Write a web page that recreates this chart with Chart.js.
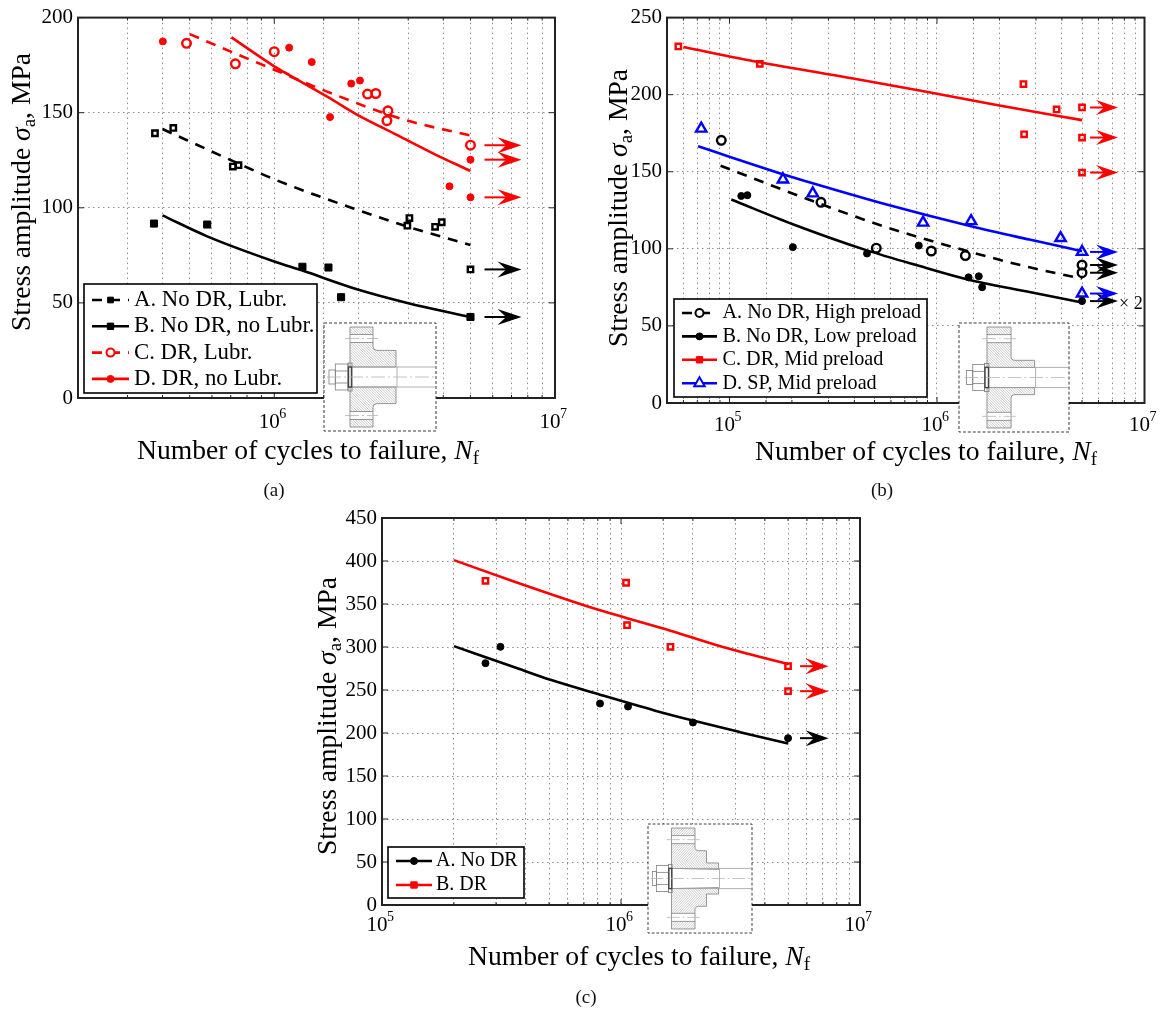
<!DOCTYPE html>
<html>
<head>
<meta charset="utf-8">
<script src="https://cdn.jsdelivr.net/npm/chart.js@4"></script>
<style>
  html, body { margin: 0; padding: 0; background: #fff; }
  canvas { position: absolute; }
  .cap { position: absolute; font: 19px "Liberation Serif", serif; color: #111; transform: translateX(-50%); }
</style>
</head>
<body>
<canvas id="chartA" style="left:0;top:0"></canvas>
<canvas id="chartB" style="left:600px;top:0"></canvas>
<canvas id="chartC" style="left:310px;top:500px"></canvas>
<div class="cap" style="left:274px;top:479px">(a)</div>
<div class="cap" style="left:882px;top:479px">(b)</div>
<div class="cap" style="left:586px;top:986px">(c)</div>
<script>
// panel (a)
const aLabels = ['A. No DR, Lubr.', 'B. No DR, no Lubr.', 'C. DR, Lubr.', 'D. DR, no Lubr.'];
const aYTicks = [0, 50, 100, 150, 200];
const aAX = [3.76e5, 4.37e5, 7.12e5, 7.46e5, 2.98e6, 3.03e6, 3.74e6, 3.95e6, 5e6];
const aAY = [139.2, 142, 121.7, 122.4, 90.6, 94.6, 90, 92.4, 67.6];
const aBX = [3.73e5, 5.77e5, 1.26e6, 1.56e6, 1.73e6, 5e6];
const aBY = [91.7, 91.2, 69, 68.6, 53, 42.6];
const aCX = [4.87e5, 7.27e5, 1e6, 2.15e6, 2.30e6, 2.54e6, 2.52e6, 5e6];
const aCY = [186.5, 175.7, 182.1, 159.8, 160.1, 151, 145.8, 132.9];
const aDX = [4.01e5, 1.13e6, 1.36e6, 1.58e6, 1.88e6, 2.02e6, 4.21e6, 5e6, 5e6];
const aDY = [187.5, 184.2, 176.6, 147.7, 165.3, 166.9, 111.3, 125.3, 105.5];
const aFitAX = [4e5, 7.1e5, 1e6, 1.97e6, 3e6, 5e6];
const aFitAY = [141.4, 124.7, 115, 99, 90, 80.4];
const aFitBX = [4e5, 5.77e5, 1e6, 1.26e6, 1.97e6, 2.98e6, 5e6];
const aFitBY = [96, 85, 71.8, 67, 57.2, 50, 42.6];
const aFitCX = [5e5, 7.3e5, 1e6, 1.56e6, 2.88e6, 5e6];
const aFitCY = [191.3, 181, 172.6, 160.8, 146.5, 138];
const aFitDX = [7.04e5, 1e6, 1.14e6, 1.56e6, 1.97e6, 2.72e6, 3.75e6, 5e6];
const aFitDY = [189.6, 174.4, 169.5, 158, 149, 138.5, 128, 119.4];
const aRunoutRed = [132.9, 125.3, 105.5];
const aRunoutBlack = [67.6, 42.6];

// panel (b)
const bLabels = ['A. No DR, High preload', 'B. No DR, Low preload', 'C. DR, Mid preload', 'D. SP, Mid preload'];
const bYTicks = [0, 50, 100, 150, 200, 250];
const bAX = [9.13e4, 2.76e5, 5.10e5, 9.39e5, 1.37e6, 5e6, 5e6];
const bAY = [170.4, 130.2, 100.4, 98.6, 95.6, 89.5, 84.5];
const bBX = [1.14e5, 1.22e5, 2.02e5, 4.60e5, 8.17e5, 1.42e6, 1.59e6, 1.65e6, 5e6];
const bBY = [134.3, 134.8, 101.1, 97, 102.1, 81.5, 82.2, 75.1, 66.1];
const bCX = [5.67e4, 1.40e5, 2.61e6, 2.63e6, 3.77e6, 5e6, 5e6, 5e6];
const bCY = [231.3, 220, 206.9, 174.3, 190.4, 191.7, 172.2, 149.5];
const bDX = [7.31e4, 1.81e5, 2.52e5, 8.57e5, 1.46e6, 3.94e6, 5e6, 5e6];
const bDY = [178, 145, 136, 117, 118, 107, 98, 71];
const bFitAX = [9.06e4, 2.76e5, 5.72e5, 1.26e6, 2.79e6, 5e6];
const bFitAY = [153.9, 129, 114, 100.3, 88, 80.7];
const bFitBX = [1.02e5, 2.02e5, 4.60e5, 8.17e5, 1.42e6, 2.79e6, 5e6];
const bFitBY = [132, 116, 99, 89, 80, 72, 65.2];
const bFitCX = [6e4, 1.40e5, 3.85e5, 8.5e5, 1.88e6, 5e6];
const bFitCY = [230.9, 221, 210.7, 202.4, 193.6, 183.5];
const bFitDX = [7.06e4, 1.81e5, 2.52e5, 5.72e5, 1.46e6, 2.79e6, 5e6];
const bFitDY = [166.5, 148.4, 142.5, 128.7, 114.6, 106, 98.5];
const bRunoutRed = [191.7, 172.2, 149.5];
const bRunoutBlack = [89.5, 84.5, 66.1];
const bRunoutBlue = [98, 71];

// panel (c)
const cLabels = ['A. No DR', 'B. DR'];
const cYTicks = [0, 50, 100, 150, 200, 250, 300, 350, 400, 450];
const cAX = [2.71e5, 3.13e5, 8.17e5, 1.07e6, 2.0e6, 5e6];
const cAY = [281.2, 300.2, 234.3, 230.8, 212.2, 194];
const cBX = [2.71e5, 1.05e6, 1.06e6, 1.61e6, 5e6, 5e6];
const cBY = [377, 374.7, 325.4, 300.2, 277.7, 248.6];
const cFitAX = [2e5, 3.66e5, 5.11e5, 8.17e5, 1.39e6, 2e6, 3.15e6, 5e6];
const cFitAY = [301, 275.5, 261.5, 244.5, 226, 214.5, 201, 187.7];
const cFitBX = [2e5, 3.66e5, 7.1e5, 1.06e6, 1.61e6, 2.67e6, 5e6];
const cFitBY = [401, 375, 348, 333.5, 319, 300, 280];
const cRunoutRed = [277.7, 248.6];
const cRunoutBlack = [194];

const SERIF = '"Liberation Serif", serif';
const INK = '#000';
const RED = '#ff0000';
const BLUE = '#0000ff';

function pts(xs, ys) { return xs.map((x, i) => ({ x: x, y: ys[i] })); }

function marks(xs, ys, m) {
  return {
    data: pts(xs, ys), showLine: false, pointStyle: m.style, pointRadius: m.r, pointHoverRadius: m.r,
    pointBorderColor: m.color, pointBorderWidth: m.filled ? 1 : 2.4,
    pointBackgroundColor: m.filled ? m.color : 'rgba(0,0,0,0)'
  };
}

function fit(xs, ys, m) {
  return {
    data: pts(xs, ys), showLine: true, pointRadius: 0, borderColor: m.color, borderWidth: 2.6,
    borderDash: m.dash || [], cubicInterpolationMode: 'monotone'
  };
}

// text made of runs, e.g. subscripts, centred on (cx, cy)
function richText(ctx, runs, cx, cy, rot) {
  ctx.save();
  ctx.translate(cx, cy);
  if (rot) ctx.rotate(rot);
  ctx.textBaseline = 'alphabetic';
  ctx.textAlign = 'left';
  ctx.fillStyle = INK;
  let total = 0;
  runs.forEach(r => { ctx.font = r.font; total += ctx.measureText(r.t).width; });
  let x = -total / 2;
  runs.forEach(r => {
    ctx.font = r.font;
    ctx.fillText(r.t, x, r.dy || 0);
    x += ctx.measureText(r.t).width;
  });
  ctx.restore();
}

function arrow(ctx, x0, x1, y, color, len, half) {
  ctx.save();
  ctx.strokeStyle = color;
  ctx.fillStyle = color;
  ctx.lineWidth = 2;
  ctx.beginPath();
  ctx.moveTo(x0, y);
  ctx.lineTo(x1 - len * 0.5, y);
  ctx.stroke();
  ctx.beginPath();
  ctx.moveTo(x1, y);
  ctx.lineTo(x1 - len, y - half);
  ctx.lineTo(x1 - len * 0.64, y);
  ctx.lineTo(x1 - len, y + half);
  ctx.closePath();
  ctx.fill();
  ctx.restore();
}

// small bolted flange sketch; coordinates are relative to a 112x108 box
function inset(ctx, b) {
  const cy = 54;
  ctx.save();
  ctx.translate(b.x, b.y);
  ctx.scale(b.w / 112, b.h / 108);
  ctx.fillStyle = '#fff';
  ctx.fillRect(0, 0, 112, 108);
  ctx.strokeStyle = '#222';
  ctx.lineWidth = 0.9;
  ctx.setLineDash([3, 2]);
  ctx.strokeRect(0, 0, 112, 108);
  ctx.setLineDash([]);

  const outline = side => {
    const f = y => side < 0 ? y : 108 - y;
    ctx.moveTo(b.fl, f(4)); ctx.lineTo(b.fr, f(4)); ctx.lineTo(b.fr, f(b.neckY - 4));
    ctx.quadraticCurveTo(b.fr, f(b.neckY), b.fr + 4, f(b.neckY));
    ctx.lineTo(b.neckX, f(b.neckY));
    if (b.stepX) { ctx.lineTo(b.neckX, f(b.stepY)); ctx.lineTo(b.stepX, f(b.stepY)); ctx.lineTo(b.stepX, f(45)); }
    else ctx.lineTo(b.neckX, f(44));
    ctx.lineTo(b.fl, f(44)); ctx.closePath();
  };
  ctx.save();
  ctx.beginPath();
  outline(-1); outline(1);
  ctx.clip();
  ctx.strokeStyle = '#a8a8a8';
  ctx.lineWidth = 0.6;
  ctx.beginPath();
  const dir = b.hatchUp ? -1 : 1;
  for (let i = -120; i < 240; i += 2.6) { ctx.moveTo(i, 0); ctx.lineTo(i + dir * 108, 108); }
  ctx.stroke();
  ctx.fillStyle = '#fff';
  ctx.fillRect(b.fl, 11.5, b.fr - b.fl + 1, 8);
  ctx.fillRect(b.fl, 88.5, b.fr - b.fl + 1, 8);
  if (b.stepX) {
    // sleeve inside the flange, hatched the other way
    ctx.fillRect(b.fl, 37, b.stepX - b.fl, 8);
    ctx.fillRect(b.fl, 63, b.stepX - b.fl, 8);
    ctx.save();
    ctx.beginPath();
    ctx.rect(b.fl, 37, b.stepX - b.fl, 8);
    ctx.rect(b.fl, 63, b.stepX - b.fl, 8);
    ctx.clip();
    ctx.beginPath();
    for (let i = -120; i < 240; i += 2.6) { ctx.moveTo(i, 0); ctx.lineTo(i + 108, 108); }
    ctx.stroke();
    ctx.restore();
  }
  ctx.restore();

  ctx.strokeStyle = '#7c7c7c';
  ctx.lineWidth = 0.8;
  ctx.beginPath();
  outline(-1); outline(1);
  ctx.moveTo(b.fl, 11.5); ctx.lineTo(b.fr, 11.5); ctx.moveTo(b.fl, 19.5); ctx.lineTo(b.fr, 19.5);
  ctx.moveTo(b.fl, 88.5); ctx.lineTo(b.fr, 88.5); ctx.moveTo(b.fl, 96.5); ctx.lineTo(b.fr, 96.5);
  ctx.stroke();

  // bolt shaft, nut, washer
  const endX = b.stepX || b.neckX;
  ctx.strokeStyle = '#9c9c9c';
  ctx.beginPath();
  ctx.moveTo(b.washR, cy - 10); ctx.lineTo(112, cy - 10);
  ctx.moveTo(b.washR, cy + 10); ctx.lineTo(112, cy + 10);
  ctx.moveTo(endX + 1, cy - 10); ctx.lineTo(endX + 1, cy + 10);
  ctx.stroke();
  ctx.strokeStyle = '#7c7c7c';
  ctx.strokeRect(b.nutL, cy - 13, b.nutR - b.nutL, 26);
  ctx.strokeRect(b.headL, cy - 7, b.nutL - b.headL, 14);
  ctx.beginPath();
  ctx.moveTo(b.nutL, cy - 6); ctx.lineTo(b.nutR, cy - 6); ctx.moveTo(b.nutL, cy + 6); ctx.lineTo(b.nutR, cy + 6);
  ctx.stroke();
  ctx.strokeRect(b.nutR, cy - 14, b.washR - b.nutR, 28);
  ctx.strokeStyle = '#444';
  ctx.lineWidth = 1.4;
  ctx.strokeRect(b.nutR + 0.5, cy - 10, b.washR - b.nutR - 1, 20);
  ctx.strokeStyle = '#b4b4b4';
  ctx.lineWidth = 0.8;
  ctx.setLineDash([14, 3, 2, 3]);
  ctx.beginPath();
  ctx.moveTo(b.headL - 2, cy); ctx.lineTo(112, cy);
  ctx.moveTo(b.fl - 5, 15.5); ctx.lineTo(b.fr + 5, 15.5);
  ctx.moveTo(b.fl - 5, 92.5); ctx.lineTo(b.fr + 5, 92.5);
  ctx.stroke();
  ctx.restore();
}

function isDecade(v) {
  const e = Math.log10(v);
  return Math.abs(e - Math.round(e)) < 1e-6;
}

const panelPlugin = {
  id: 'panel',
  afterDatasetsDraw(chart, args, o) {
    const ctx = chart.ctx;
    const { left, right, top, bottom } = chart.chartArea;
    const xs = chart.scales.x, ys = chart.scales.y;
    // axes box and inner ticks
    ctx.save();
    ctx.strokeStyle = '#222';
    ctx.lineWidth = 1;
    ctx.beginPath();
    xs.ticks.forEach(t => {
      const p = xs.getPixelForValue(t.value);
      const len = isDecade(t.value) ? 6 : 3;
      ctx.moveTo(p, bottom); ctx.lineTo(p, bottom - len);
      ctx.moveTo(p, top); ctx.lineTo(p, top + len);
    });
    ys.ticks.forEach(t => {
      const p = ys.getPixelForValue(t.value);
      ctx.moveTo(left, p); ctx.lineTo(left + 6, p);
      ctx.moveTo(right, p); ctx.lineTo(right - 6, p);
    });
    ctx.stroke();
    ctx.lineWidth = 2;
    ctx.strokeRect(left, top, right - left, bottom - top);
    ctx.restore();

    // exponent of the decade labels
    ctx.save();
    ctx.font = '14px ' + SERIF;
    ctx.fillStyle = INK;
    ctx.textAlign = 'left';
    ctx.textBaseline = 'alphabetic';
    xs.ticks.filter(t => isDecade(t.value)).forEach(t => {
      ctx.fillText(String(Math.round(Math.log10(t.value))), xs.getPixelForValue(t.value) + 5, bottom + o.labelPad + 8);
    });
    ctx.restore();

    // run-out arrows
    o.arrows.forEach(a => {
      const x = xs.getPixelForValue(a.x);
      a.ys.forEach(v => arrow(ctx, x + o.arrowFrom, x + o.arrowTo, ys.getPixelForValue(v), a.color, o.headLen, o.headHalf));
    });
    (o.notes || []).forEach(n => {
      ctx.save();
      ctx.font = n.font; ctx.fillStyle = INK; ctx.textBaseline = 'middle';
      ctx.fillText(n.text, n.px, ys.getPixelForValue(n.y));
      ctx.restore();
    });

    // legend
    const lg = o.legend;
    ctx.save();
    ctx.fillStyle = '#fff';
    ctx.fillRect(lg.x, lg.y, lg.w, lg.h);
    ctx.strokeStyle = INK;
    ctx.lineWidth = 1.6;
    ctx.strokeRect(lg.x, lg.y, lg.w, lg.h);
    lg.items.forEach((it, i) => {
      const y = lg.y + lg.first + i * lg.step;
      ctx.strokeStyle = it.color;
      ctx.lineWidth = 2.6;
      ctx.setLineDash(it.dash || []);
      ctx.beginPath();
      ctx.moveTo(lg.x + lg.lineFrom, y); ctx.lineTo(lg.x + lg.lineTo, y);
      ctx.stroke();
      ctx.setLineDash([]);
      ctx.fillStyle = it.filled ? it.color : '#fff';
      ctx.lineWidth = it.filled ? 1 : 2;
      Chart.helpers.drawPoint(ctx, { pointStyle: it.style, rotation: 0, borderWidth: ctx.lineWidth, radius: it.r }, lg.x + (lg.lineFrom + lg.lineTo) / 2, y);
      ctx.fillStyle = INK;
      ctx.font = lg.font;
      ctx.textBaseline = 'middle';
      ctx.fillText(it.label, lg.x + lg.textX, y);
    });
    ctx.restore();

    inset(ctx, o.inset);

    // axis titles
    const big = o.titleSize + 'px ' + SERIF;
    const it = 'italic ' + o.titleSize + 'px ' + SERIF;
    const sub = Math.round(o.titleSize * 0.7) + 'px ' + SERIF;
    richText(ctx, [
      { t: 'Number of cycles to failure, ', font: big },
      { t: 'N', font: it },
      { t: 'f', font: sub, dy: 5 }
    ], o.xTitle.x, o.xTitle.y);
    richText(ctx, [
      { t: 'Stress amplitude ', font: big },
      { t: '\u03c3', font: it },
      { t: 'a', font: sub, dy: 5 },
      { t: ', MPa', font: big }
    ], o.yTitle.x, o.yTitle.y, -Math.PI / 2);
  }
};

function makePanel(id, w, h, box, xMin, yMax, yStep, datasets, decor) {
  const el = document.getElementById(id);
  el.style.width = w + 'px';
  el.style.height = h + 'px';
  el.width = w;
  el.height = h;
  return new Chart(el, {
    type: 'scatter',
    data: { datasets: datasets },
    plugins: [panelPlugin],
    options: {
      responsive: false,
      animation: false,
      devicePixelRatio: 1,
      layout: { padding: { top: box.top, right: w - box.right, left: 0, bottom: 0 } },
      plugins: { legend: { display: false }, tooltip: { enabled: false }, panel: decor },
      scales: {
        x: {
          type: 'logarithmic', min: xMin, max: 1e7,
          afterFit(s) { s.height = h - box.bottom; },
          grid: { color: '#8c8c8c', lineWidth: 1, drawTicks: false },
          border: { display: false, dash: [1.5, 3.5] },
          ticks: {
            autoSkip: false, maxRotation: 0, padding: decor.labelPad, labelOffset: -5, color: INK,
            font: { family: 'Liberation Serif', size: 21 },
            callback(v) { return isDecade(v) ? '10' : ''; }
          }
        },
        y: {
          type: 'linear', min: 0, max: yMax,
          afterFit(s) { s.width = box.left; },
          grid: { color: '#8c8c8c', lineWidth: 1, drawTicks: false },
          border: { display: false, dash: [1.5, 3.5] },
          ticks: {
            stepSize: yStep, padding: 5, color: INK,
            font: { family: 'Liberation Serif', size: 21 }
          }
        }
      }
    }
  });
}

const sq = c => ({ style: 'rect', r: 3.8, color: c, filled: false });
const sqFull = c => ({ style: 'rect', r: 5, color: c, filled: true });
const dot = c => ({ style: 'circle', r: 3.5, color: c, filled: true });
const ring = c => ({ style: 'circle', r: 4.3, color: c, filled: false });
const tri = c => ({ style: 'triangle', r: 6, color: c, filled: false });
const dashed = [10, 8];

makePanel('chartA', 600, 480, { left: 78, right: 555, top: 15, bottom: 398 }, 2e5, aYTicks[aYTicks.length - 1], 50, [
  marks(aAX, aAY, sq(INK)), marks(aBX, aBY, sqFull(INK)), marks(aCX, aCY, ring(RED)), marks(aDX, aDY, dot(RED)),
  fit(aFitAX, aFitAY, { color: INK, dash: dashed }), fit(aFitBX, aFitBY, { color: INK }),
  fit(aFitCX, aFitCY, { color: RED, dash: dashed }), fit(aFitDX, aFitDY, { color: RED })
], {
  labelPad: 12,
  arrows: [{ x: 5e6, ys: aRunoutRed, color: RED }, { x: 5e6, ys: aRunoutBlack, color: INK }],
  arrowFrom: 14, arrowTo: 51, headLen: 24, headHalf: 8,
  legend: {
    x: 84, y: 284, w: 233, h: 109, first: 16, step: 26.3, lineFrom: 8, lineTo: 45, textX: 50, font: '22.8px ' + SERIF,
    items: [
      { label: aLabels[0], color: INK, dash: dashed, style: 'rect', r: 4, filled: true },
      { label: aLabels[1], color: INK, style: 'rect', r: 4.5, filled: true },
      { label: aLabels[2], color: RED, dash: dashed, style: 'circle', r: 4, filled: false },
      { label: aLabels[3], color: RED, style: 'circle', r: 3.5, filled: true }
    ]
  },
  inset: { x: 324, y: 323, w: 112, h: 108, fl: 26, fr: 49, neckY: 27.4, neckX: 72, nutL: 11.3, nutR: 24, headL: 5, washR: 28 },
  titleSize: 27.6, xTitle: { x: 308, y: 459 }, yTitle: { x: 30, y: 192 }
});

makePanel('chartB', 565, 480, { left: 67, right: 548, top: 15, bottom: 403 }, 5e4, bYTicks[bYTicks.length - 1], 50, [
  marks(bAX, bAY, ring(INK)), marks(bBX, bBY, dot(INK)), marks(bCX, bCY, sq(RED)), marks(bDX, bDY, tri(BLUE)),
  fit(bFitAX, bFitAY, { color: INK, dash: dashed }), fit(bFitBX, bFitBY, { color: INK }),
  fit(bFitCX, bFitCY, { color: RED }), fit(bFitDX, bFitDY, { color: BLUE })
], {
  labelPad: 10,
  arrows: [{ x: 5e6, ys: bRunoutRed, color: RED }, { x: 5e6, ys: bRunoutBlack, color: INK }, { x: 5e6, ys: bRunoutBlue, color: BLUE }],
  arrowFrom: 8, arrowTo: 36, headLen: 22, headHalf: 7.5,
  notes: [{ text: '\u00d7 2', px: 519, y: 64, font: '18px ' + SERIF }],
  legend: {
    x: 74, y: 299, w: 253, h: 98, first: 14, step: 23.4, lineFrom: 8, lineTo: 43, textX: 48.5, font: '20.2px ' + SERIF,
    items: [
      { label: bLabels[0], color: INK, dash: dashed, style: 'circle', r: 4, filled: false },
      { label: bLabels[1], color: INK, style: 'circle', r: 3.5, filled: true },
      { label: bLabels[2], color: RED, style: 'rect', r: 4.5, filled: true },
      { label: bLabels[3], color: BLUE, style: 'triangle', r: 6, filled: false }
    ]
  },
  inset: { x: 359, y: 323, w: 110, h: 109, fl: 28.5, fr: 53, neckY: 37, neckX: 77, nutL: 14, nutR: 26, headL: 7.5, washR: 30.5 },
  titleSize: 27.6, xTitle: { x: 326, y: 460 }, yTitle: { x: 27, y: 208 }
});

makePanel('chartC', 600, 509, { left: 72, right: 550, top: 18, bottom: 405 }, 1e5, cYTicks[cYTicks.length - 1], 50, [
  marks(cAX, cAY, dot(INK)), marks(cBX, cBY, sq(RED)),
  fit(cFitAX, cFitAY, { color: INK }), fit(cFitBX, cFitBY, { color: RED })
], {
  labelPad: 8,
  arrows: [{ x: 5e6, ys: cRunoutRed, color: RED }, { x: 5e6, ys: cRunoutBlack, color: INK }],
  arrowFrom: 12, arrowTo: 40.5, headLen: 23, headHalf: 8,
  legend: {
    x: 78, y: 347, w: 136, h: 51, first: 14, step: 24, lineFrom: 8, lineTo: 44, textX: 48, font: '20px ' + SERIF,
    items: [
      { label: cLabels[0], color: INK, style: 'circle', r: 3.5, filled: true },
      { label: cLabels[1], color: RED, style: 'rect', r: 4.5, filled: true }
    ]
  },
  inset: { x: 338, y: 324, w: 104, h: 109, fl: 25.3, fr: 50.6, neckY: 26.5, neckX: 63, stepY: 38.6, stepX: 76, hatchUp: true, nutL: 9, nutR: 22, headL: 4.7, washR: 26 },
  titleSize: 27.6, xTitle: { x: 329, y: 465 }, yTitle: { x: 26, y: 216 }
});
</script>
</body>
</html>
